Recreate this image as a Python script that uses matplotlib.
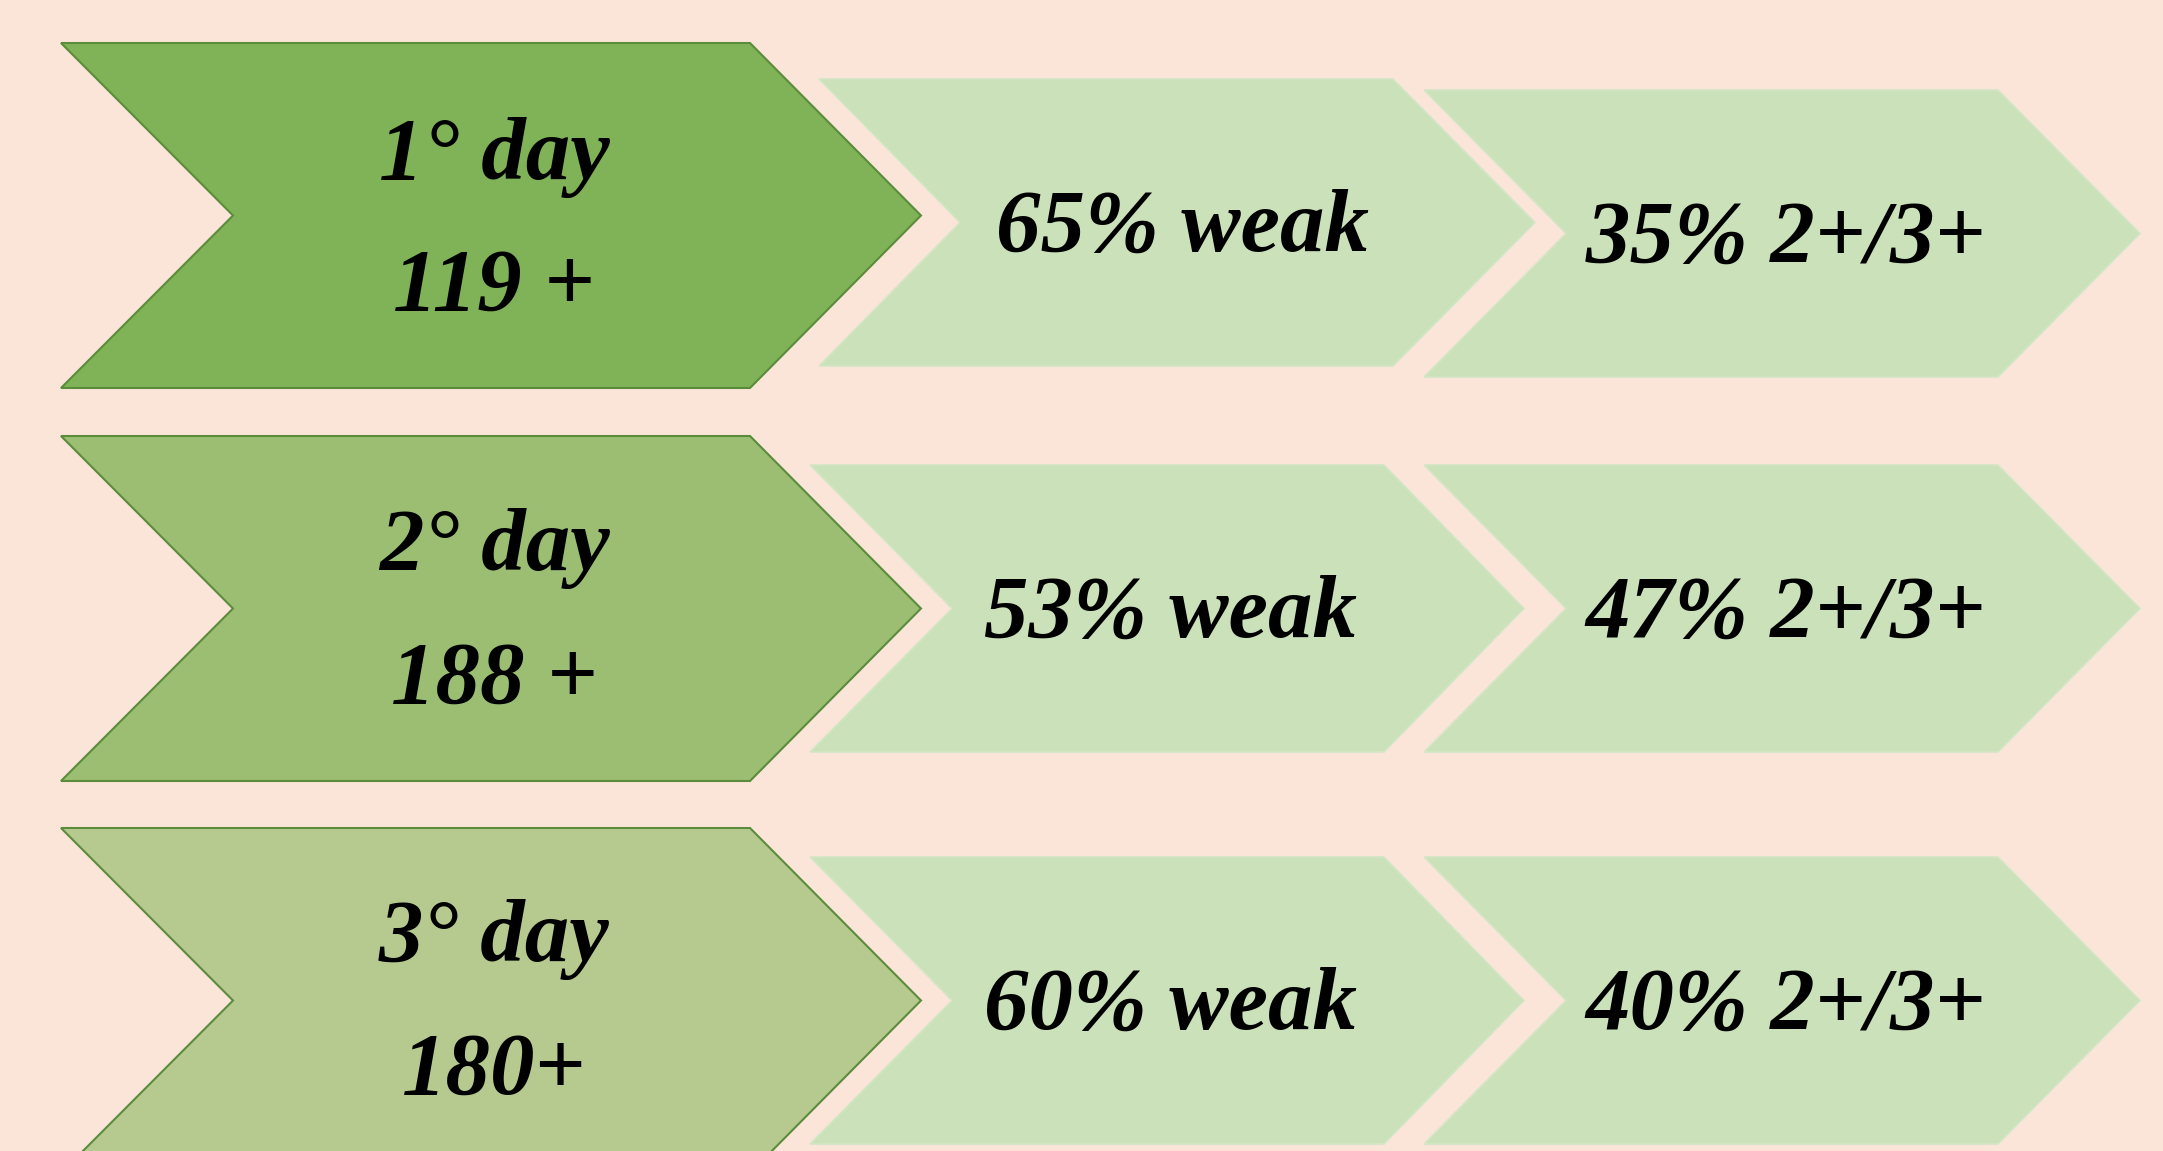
import matplotlib
matplotlib.use("Agg")
import matplotlib.pyplot as plt
from matplotlib.patches import Polygon

# ---- data ----
day_labels = ["1° day", "2° day", "3° day"]
count_labels = ["119 +", "188 +", "180+"]
weak_labels = ["65% weak", "53% weak", "60% weak"]
strong_labels = ["35% 2+/3+", "47% 2+/3+", "40% 2+/3+"]

# ---- layout (pixel space) ----
W, H = 2163, 1151
big_colors = ["#80B257", "#9BBE73", "#B6CA8F"]
light_color = "#CBE1B9"
bg = "#FBE5D8"

big_x = (61, 233, 750, 921)          # left, notch, corner, tip
big_tops = [43, 436, 828]
big_h = 345

col1_x = [(819, 960, 1393, 1535), (810, 952, 1384, 1524), (810, 952, 1384, 1524)]
col2_x = [(1424, 1566, 1998, 2140)] * 3
col1_tb = [(79, 366), (465, 752), (857, 1144)]
col2_tb = [(90, 377), (465, 752), (857, 1144)]

day_xy = [(494, 179), (494, 570), (494, 961)]
cnt_xy = [(494, 310), (494, 703), (494, 1094)]
weak_xy = [(1182, 251), (1171, 637), (1171, 1029)]
strong_xy = [(1786, 262), (1786, 637), (1786, 1029)]

def chevron(xs, top, bot):
    l, n, c, t = xs
    m = (top + bot) / 2
    return [(l, top), (c, top), (t, m), (c, bot), (l, bot), (n, m)]

fig = plt.figure(figsize=(W / 100, H / 100), dpi=100)
fig.patch.set_facecolor(bg)
ax = fig.add_axes([0, 0, 1, 1])
ax.set_xlim(0, W)
ax.set_ylim(H, 0)
ax.axis("off")
ax.set_facecolor(bg)

font = dict(family="Liberation Serif", weight="bold", style="italic",
            color="black", fontsize=64, ha="center", va="baseline")

for i in range(3):
    top = big_tops[i]
    ax.add_patch(Polygon(chevron(big_x, top, top + big_h), closed=True,
                         facecolor=big_colors[i], edgecolor="#5B8C3B", lw=1.5))
    ax.add_patch(Polygon(chevron(col1_x[i], *col1_tb[i]), closed=True,
                         facecolor=light_color, edgecolor="#D3E6C6", lw=1.2))
    ax.add_patch(Polygon(chevron(col2_x[i], *col2_tb[i]), closed=True,
                         facecolor=light_color, edgecolor="#D3E6C6", lw=1.2))
    ax.text(*day_xy[i], day_labels[i], **font)
    ax.text(*cnt_xy[i], count_labels[i], **font)
    ax.text(*weak_xy[i], weak_labels[i], **font)
    ax.text(*strong_xy[i], strong_labels[i], **font)

fig.savefig("out.png", dpi=100, facecolor=bg)
